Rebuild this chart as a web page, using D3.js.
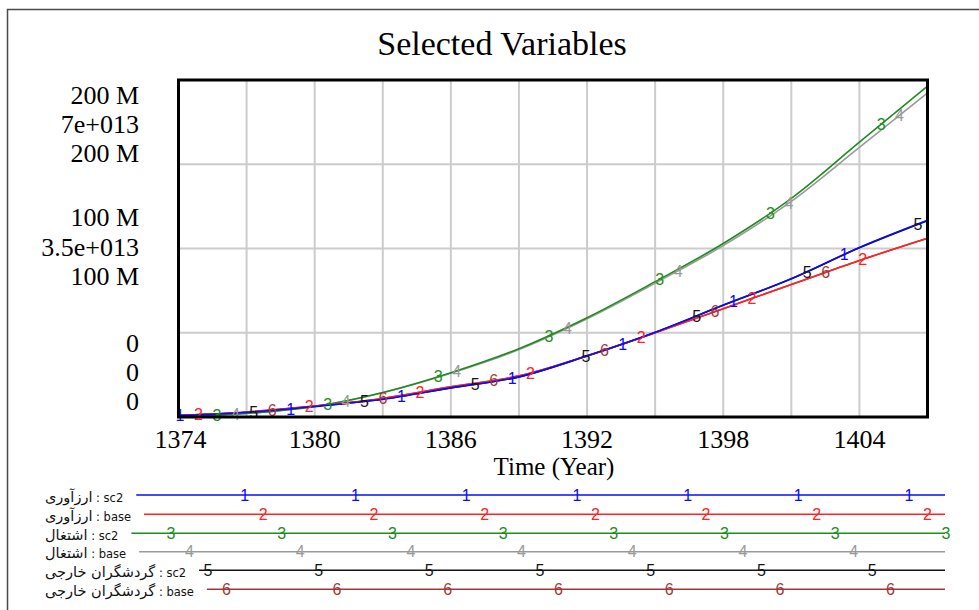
<!DOCTYPE html>
<html><head><meta charset="utf-8">
<script src="https://cdn.jsdelivr.net/npm/d3@7"></script>
<style>html,body{margin:0;padding:0;background:#fff;}svg{display:block;}</style>
</head><body>
<svg id="chart" width="979" height="610"></svg>
<script>
// ---------- data ----------
const years = [1374, 1377, 1380, 1383, 1386, 1389, 1392, 1395, 1398, 1401, 1404, 1407];
const arzSc2   = [0.9e6, 2.7e6, 6.2e6, 10.5e6, 17.3e6, 23.8e6, 36.3e6, 50.3e6, 66.4e6, 82.1e6, 100.6e6, 116.7e6];
const arzBase  = [0.9e6, 3.0e6, 6.5e6, 11.0e6, 17.9e6, 24.4e6, 36.3e6, 50.0e6, 64.3e6, 78.6e6, 92.9e6, 106.1e6];
const ashSc2   = [1.0e11, 7.3e11, 2.19e12, 5.10e12, 9.2e12, 1.42e13, 2.062e13, 2.812e13, 3.604e13, 4.541e13, 5.708e13, 6.875e13];
const ashBase  = [1.0e11, 7.2e11, 2.17e12, 5.05e12, 9.1e12, 1.40e13, 2.04e13, 2.78e13, 3.56e13, 4.48e13, 5.60e13, 6.73e13];
const tourSc2  = [0.9e6, 2.8e6, 6.3e6, 10.6e6, 17.3e6, 23.8e6, 36.2e6, 50.2e6, 66.3e6, 82.0e6, 100.4e6, 116.5e6];
const tourBase = [0.9e6, 3.0e6, 6.5e6, 11.0e6, 17.9e6, 24.4e6, 36.3e6, 50.0e6, 64.3e6, 78.6e6, 92.9e6, 106.1e6];

const seriesVars = ["ارزآوری", "ارزآوری", "اشتغال", "اشتغال", "گردشگران خارجی", "گردشگران خارجی"];
const seriesRuns = ["sc2", "base", "sc2", "base", "sc2", "base"];
const seriesLabels = ["1", "2", "3", "4", "5", "6"];
const seriesScale = ["A", "A", "B", "B", "A", "A"];
const seriesColors = ["#0a0aff", "#ff2424", "#1e8c1e", "#9a9a9a", "#141414", "#a33838"];

const scaleMaxA = 200e6;   // ارزآوری, گردشگران خارجی
const scaleMaxB = 7e13;    // اشتغال
const yTickLabelsTop = ["200 M", "7e+013", "200 M"];
const yTickLabelsMid = ["100 M", "3.5e+013", "100 M"];
const yTickLabelsBot = ["0", "0", "0"];
const xDomain = [1374, 1407];
const xTickLabels = [1374, 1380, 1386, 1392, 1398, 1404];
const xGridYears = [1377, 1380, 1383, 1386, 1389, 1392, 1395, 1398, 1401, 1404];
const title = "Selected Variables";
const xTitle = "Time (Year)";

// ---------- layout ----------
const svg = d3.select("#chart");
const L = 178.5, R = 927.5, T = 80, B = 417;
const x = d3.scaleLinear().domain(xDomain).range([L, R]);
const yA = d3.scaleLinear().domain([0, scaleMaxA]).range([B, T]);
const yB = d3.scaleLinear().domain([0, scaleMaxB]).range([B, T]);
const serif = "'Liberation Serif','Times New Roman',serif";
const markFont = "'Liberation Sans',Arial,sans-serif";

// outer frame
svg.append("path").attr("d", "M7.5,610 V9.5 H979").attr("fill", "none")
  .attr("stroke", "#4a4a4a").attr("stroke-width", 1.5);

// title
svg.append("text").attr("x", 502).attr("y", 55).attr("text-anchor", "middle")
  .attr("font-family", serif).attr("font-size", 34).attr("fill", "#000").text(title);

// grid
const grid = svg.append("g").attr("stroke", "#cccccc").attr("stroke-width", 2);
xGridYears.forEach(yr => grid.append("line").attr("x1", x(yr)).attr("x2", x(yr)).attr("y1", T).attr("y2", B));
[0.25, 0.5, 0.75].forEach(f => {
  const yy = yA(scaleMaxA * f);
  grid.append("line").attr("x1", L).attr("x2", R).attr("y1", yy).attr("y2", yy);
});

// clip
svg.append("clipPath").attr("id", "clip").append("rect")
  .attr("x", L).attr("y", T - 2).attr("width", R - L).attr("height", B - T + 2);

const allSeries = [arzSc2, arzBase, ashSc2, ashBase, tourSc2, tourBase];
const lineGen = (sc) => d3.line().x((d, i) => x(years[i])).y(d => sc(d)).curve(d3.curveMonotoneX);

const plotG = svg.append("g").attr("clip-path", "url(#clip)");
const paths = [];
for (let i = allSeries.length - 1; i >= 0; i--) {
  const sc = seriesScale[i] === "A" ? yA : yB;
  paths[i] = plotG.append("path").datum(allSeries[i]).attr("d", lineGen(sc))
    .attr("fill", "none").attr("stroke", seriesColors[i]).attr("stroke-width", 1.6);
}

function yAtX(pathNode, px) {
  const len = pathNode.getTotalLength();
  let lo = 0, hi = len;
  for (let k = 0; k < 40; k++) {
    const mid = (lo + hi) / 2;
    if (pathNode.getPointAtLength(mid).x < px) lo = mid; else hi = mid;
  }
  return pathNode.getPointAtLength((lo + hi) / 2).y;
}

// plot markers
const markSpacing = 110.7, markStagger = 18.45;
const markG = svg.append("g");
for (let i = 0; i < allSeries.length; i++) {
  for (let k = 0; k < 8; k++) {
    const px = x(xDomain[0]) + 1.5 + i * markStagger + k * markSpacing;
    if (px > R - 4) break;
    const py = yAtX(paths[i].node(), px);
    markG.append("text").attr("x", px).attr("y", py).attr("dy", "0.36em")
      .attr("text-anchor", "middle").attr("font-family", markFont).attr("font-size", 16)
      .attr("fill", seriesColors[i]).text(seriesLabels[i]);
  }
}

// plot border
svg.append("rect").attr("x", L).attr("y", T).attr("width", R - L).attr("height", B - T)
  .attr("fill", "none").attr("stroke", "#000").attr("stroke-width", 3);

// y tick labels (three stacked scales)
const yl = svg.append("g").attr("font-family", serif).attr("font-size", 26).attr("fill", "#000").attr("text-anchor", "end");
const lineH = 29.2;
const blocks = [
  {labels: yTickLabelsTop, base: T + 24},
  {labels: yTickLabelsMid, base: yA(scaleMaxA / 2) - lineH + 7},
  {labels: yTickLabelsBot, base: B - 7 - 2 * lineH}
];
blocks.forEach(b => b.labels.forEach((t, j) =>
  yl.append("text").attr("x", 139).attr("y", b.base + j * lineH).text(t)));

// x tick labels
const xl = svg.append("g").attr("font-family", serif).attr("font-size", 26).attr("fill", "#000").attr("text-anchor", "middle");
xTickLabels.forEach(v => xl.append("text").attr("x", v === xDomain[0] ? x(v) + 2 : x(v)).attr("y", 448).text(v));
svg.append("text").attr("x", (L + R) / 2 + 1).attr("y", 475).attr("text-anchor", "middle")
  .attr("font-family", serif).attr("font-size", 25).attr("fill", "#000").text(xTitle);

// legend
const legRowY = [495, 514.2, 533.2, 551.7, 570.3, 589.3];
const legEnd = 945, legX = 45;
const legLeftMark = 171, legMarkOrder = [4, 5, 0, 1, 2, 3];
const lg = svg.append("g");
for (let i = 0; i < seriesVars.length; i++) {
  const yy = legRowY[i];
  const t = lg.append("text").attr("x", legX).attr("y", yy + 6.5)
    .attr("font-family", "'DejaVu Sans',sans-serif").attr("fill", "#111").attr("direction", "ltr");
  t.append("tspan").attr("font-size", 14.5).text(seriesVars[i]);
  t.append("tspan").attr("font-size", 11.5).text(" : " + seriesRuns[i]);
  const w = t.node().getComputedTextLength();
  const start = legX + w + 13;
  lg.append("line").attr("x1", start).attr("x2", legEnd).attr("y1", yy).attr("y2", yy)
    .attr("stroke", seriesColors[i]).attr("stroke-width", 1.6);
  for (let k = 0; k < 9; k++) {
    const px = legLeftMark + legMarkOrder[i] * markStagger + k * markSpacing;
    if (px > 950) break;
    if (px < start + 5) continue;
    lg.append("text").attr("x", px).attr("y", yy).attr("dy", "0.36em").attr("text-anchor", "middle")
      .attr("font-family", markFont).attr("font-size", 16).attr("fill", seriesColors[i]).text(seriesLabels[i]);
  }
}
</script>
</body></html>
